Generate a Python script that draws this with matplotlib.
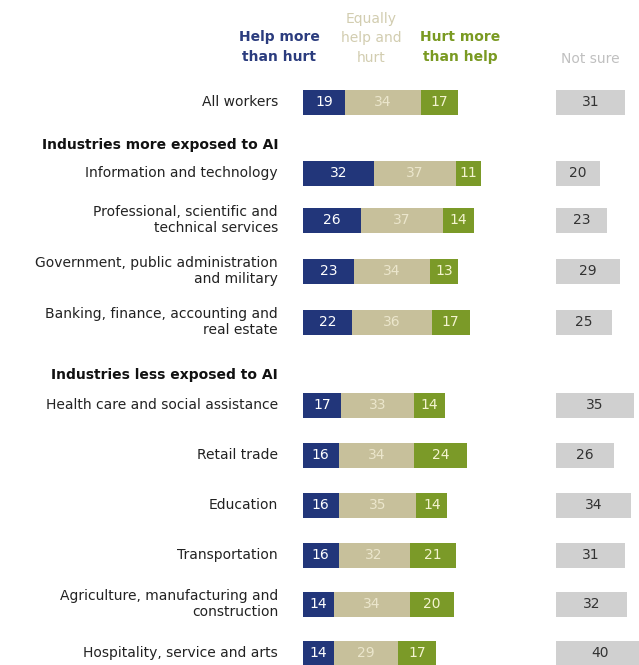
import numpy as np
import matplotlib
matplotlib.use("Agg")
import matplotlib.pyplot as plt

# data
labels = ["All workers",
          "Information and technology",
          "Professional, scientific and\ntechnical services",
          "Government, public administration\nand military",
          "Banking, finance, accounting and\nreal estate",
          "Health care and social assistance",
          "Retail trade",
          "Education",
          "Transportation",
          "Agriculture, manufacturing and\nconstruction",
          "Hospitality, service and arts"]
help_more = [19, 32, 26, 23, 22, 17, 16, 16, 16, 14, 14]
equally = [34, 37, 37, 34, 36, 33, 34, 35, 32, 34, 29]
hurt_more = [17, 11, 14, 13, 17, 14, 24, 14, 21, 20, 17]
not_sure = [31, 20, 23, 29, 25, 35, 26, 34, 31, 32, 40]
section_titles = ["Industries more exposed to AI", "Industries less exposed to AI"]

# layout (pixels from top)
row_y = np.cumsum([102, 71, 47, 51, 51, 83, 50, 50, 50, 49, 49])
section_y = [145, 375]

W, H = 639, 665
px = 2.22          # pixels per percentage point
x0 = 303           # left edge of bars
ns_off = (556 - x0) / px

c_blue = "#22367a"
c_beige = "#c7c09b"
c_green = "#7b9a28"
c_gray = "#d0d0d0"

fig = plt.figure(figsize=(W / 100, H / 100), dpi=100)
ax = fig.add_axes([0, 0, 1, 1])
ax.set_xlim(-x0 / px, (W - x0) / px)
ax.set_ylim(H, 0)
ax.axis("off")

bh = 25
help_arr = np.array(help_more)
eq_arr = np.array(equally)
hurt_arr = np.array(hurt_more)
ns_arr = np.array(not_sure)
ax.barh(row_y, help_arr, height=bh, color=c_blue)
ax.barh(row_y, eq_arr, left=help_arr, height=bh, color=c_beige)
ax.barh(row_y, hurt_arr, left=help_arr + eq_arr, height=bh, color=c_green)
ax.barh(row_y, ns_arr, left=ns_off, height=bh, color=c_gray)

fs = 10
for i, y in enumerate(row_y):
    ax.text(-25 / px, y, labels[i], ha="right", va="center", fontsize=fs,
            color="#222222", linespacing=1.25)
    ax.text(help_arr[i] / 2, y, str(help_arr[i]), ha="center", va="center",
            fontsize=fs, color="white")
    ax.text(help_arr[i] + eq_arr[i] / 2, y, str(eq_arr[i]), ha="center", va="center",
            fontsize=fs, color="#ebe6cc")
    ax.text(help_arr[i] + eq_arr[i] + hurt_arr[i] / 2, y, str(hurt_arr[i]),
            ha="center", va="center", fontsize=fs, color="#f4f4d0")
    ax.text(ns_off + ns_arr[i] / 2, y, str(ns_arr[i]), ha="center", va="center",
            fontsize=fs, color="#333333")

for t, y in zip(section_titles, section_y):
    ax.text(-25 / px, y, t, ha="right", va="center", fontsize=fs,
            fontweight="bold", color="#111111")

# column headers
hy = 47
ax.text((279 - x0) / px, hy, "Help more\nthan hurt", ha="center", va="center",
        fontsize=fs, fontweight="bold", color="#2b3c7e", linespacing=1.5)
ax.text((371 - x0) / px, 38, "Equally\nhelp and\nhurt", ha="center", va="center",
        fontsize=fs, color="#d2cdb0", linespacing=1.5)
ax.text((460 - x0) / px, hy, "Hurt more\nthan help", ha="center", va="center",
        fontsize=fs, fontweight="bold", color="#7a9a22", linespacing=1.5)
ax.text((590 - x0) / px, 59, "Not sure", ha="center", va="center",
        fontsize=fs, color="#c0c0c0")

fig.savefig("out.png", dpi=100, facecolor="white")
